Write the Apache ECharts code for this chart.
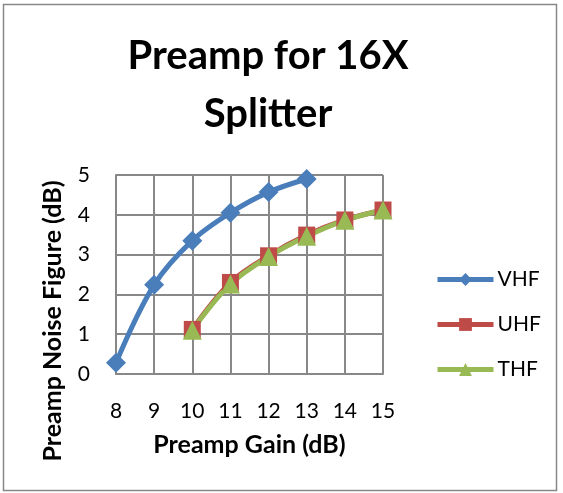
<!DOCTYPE html>
<html>
<head>
<meta charset="utf-8">
<script src="https://cdn.jsdelivr.net/npm/echarts@6/dist/echarts.min.js"></script>
<style>
html, body { margin: 0; padding: 0; background: #fff; }
#chartmain { width: 563px; height: 493px; }
</style>
</head>
<body>
<div id="chartmain"></div>
<script>
var gain_x = [8, 9, 10, 11, 12, 13, 14, 15];
var vhf_y = [0.28, 2.24, 3.35, 4.05, 4.57, 4.9];
var uhf_y = [1.12, 2.3, 2.97, 3.49, 3.87, 4.12];
var thf_y = [1.1, 2.26, 2.95, 3.46, 3.86, 4.12];

function pairs(xs, ys) {
    var out = [];
    for (var i = 0; i < ys.length; i++) {
        out.push([xs[i], ys[i]]);
    }
    return out;
}

var font = 'Lato';

var option = {
    backgroundColor: '#fff',
    title: {
        text: 'Preamp for 16X\nSplitter',
        left: 263,
        top: 22,
        textAlign: 'center',
        textStyle: {
            fontFamily: font,
            fontWeight: 'bold',
            fontSize: 40,
            lineHeight: 58,
            color: '#000'
        }
    },
    legend: {
        orient: 'vertical',
        left: 430,
        top: 264,
        itemWidth: 56,
        itemHeight: 16,
        itemGap: 24,
        lineStyle: { width: 5 },
        textStyle: {
            fontFamily: font,
            fontSize: 21,
            color: '#000',
            padding: [0, 0, 0, -1]
        },
        data: ['VHF', 'UHF', 'THF']
    },
    grid: {
        left: 116,
        right: 180,
        top: 175,
        bottom: 119
    },
    xAxis: {
        type: 'value',
        min: 8,
        max: 15,
        interval: 1,
        name: 'Preamp Gain (dB)',
        nameLocation: 'middle',
        nameGap: 58,
        nameTextStyle: {
            fontFamily: font,
            fontWeight: 'bold',
            fontSize: 25,
            color: '#000'
        },
        axisLine: { lineStyle: { color: '#888', width: 2 } },
        axisTick: { show: false },
        splitLine: { show: true, lineStyle: { color: '#888', width: 2 } },
        axisLabel: {
            margin: 27,
            fontFamily: font,
            fontSize: 21,
            color: '#000'
        }
    },
    yAxis: {
        type: 'value',
        min: 0,
        max: 5,
        interval: 1,
        axisLine: { show: true, lineStyle: { color: '#888', width: 2 } },
        axisTick: { show: false },
        splitLine: { show: true, lineStyle: { color: '#888', width: 2 } },
        axisLabel: {
            margin: 26,
            fontFamily: font,
            fontSize: 21,
            color: '#000'
        }
    },
    graphic: [{
        type: 'rect',
        shape: { x: 3.5, y: 4.5, width: 553, height: 486 },
        style: { fill: 'none', stroke: '#888', lineWidth: 1.5 },
        silent: true
    }, {
        type: 'text',
        x: 53,
        y: 321,
        rotation: Math.PI / 2,
        style: {
            text: 'Preamp Noise Figure (dB)',
            font: 'bold 25px Lato',
            fill: '#000',
            align: 'center',
            verticalAlign: 'middle'
        },
        silent: true
    }],
    series: [{
        name: 'VHF',
        type: 'line',
        smooth: 0.35,
        data: pairs(gain_x, vhf_y),
        symbol: 'diamond',
        symbolSize: 20,
        lineStyle: { width: 5, color: '#4a7ebb' },
        itemStyle: { color: '#4a7ebb' }
    }, {
        name: 'UHF',
        type: 'line',
        smooth: 0.35,
        data: pairs(gain_x.slice(2), uhf_y),
        symbol: 'rect',
        symbolSize: 17,
        lineStyle: { width: 5, color: '#be4b48' },
        itemStyle: { color: '#be4b48' }
    }, {
        name: 'THF',
        type: 'line',
        smooth: 0.35,
        data: pairs(gain_x.slice(2), thf_y),
        symbol: 'triangle',
        symbolSize: 19,
        lineStyle: { width: 5, color: '#98b954' },
        itemStyle: { color: '#98b954' }
    }]
};

var myChart = echarts.init(document.getElementById('chartmain'));
myChart.setOption(option);
</script>
</body>
</html>
